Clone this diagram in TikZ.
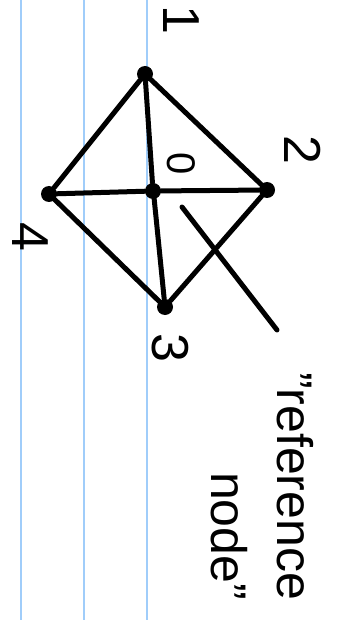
\documentclass[tikz,border=0pt]{standalone}
\usepackage{fontspec}
\setmainfont{Liberation Sans}
\definecolor{rulingblue}{RGB}{160,205,250}
\begin{document}
\begin{tikzpicture}[
            % pixel-like units, y pointing down
            x=1pt, y=-1pt,
            % Stili
            vertex/.style={circle, fill=black, inner sep=0pt, minimum size=16pt},
            edge/.style={line width=5pt, line cap=round, line join=round},
            numlabel/.style={rotate=-90, inner sep=0pt, font=\fontsize{52}{52}\selectfont},
            note/.style={rotate=-90, inner sep=0pt, align=right, font=\fontsize{50}{66}\selectfont},
            ruling/.style={line width=1.5pt, color=rulingblue}
        ]
        \useasboundingbox (0,0) rectangle (361,620);

        % righe del foglio
        \foreach \xr in {21,84,147}
            \draw[ruling] (\xr,0) -- (\xr,620);

        % vertici
        \node[vertex] (v1) at (145,74) {};
        \node[vertex] (v0) at (153,191) {};
        \node[vertex] (v2) at (267,190) {};
        \node[vertex] (v4) at (49,194) {};
        \node[vertex] (v3) at (165,307) {};

        % spigoli
        \draw[edge] (v1) -- (v4);
        \draw[edge] (v1) -- (v2);
        \draw[edge] (v1) -- (v0);
        \draw[edge] (v4) -- (v0) -- (v2);
        \draw[edge] (v4) -- (v3);
        \draw[edge] (v2) -- (v3);
        \draw[edge] ([yshift=12pt]v0.south) -- (v3);

        % etichette
        \node[numlabel] (l1) at (181,20) {1};
        \node[numlabel] (l2) at (303,150) {2};
        \node[numlabel, font=\fontsize{40}{40}\selectfont] (l0) at (181,164) {0};
        \node[numlabel] (l4) at (30,237) {4};
        \node[numlabel] (l3) at (170,348) {3};

        % indicatore del nodo di riferimento
        \coordinate (ptrA) at (182,207);
        \coordinate (ptrB) at (277,330);
        \draw[edge] (ptrA) -- (ptrB);
        \node[note] (refnote) at (262,486) {"reference\\node"};
\end{tikzpicture}
\end{document}
